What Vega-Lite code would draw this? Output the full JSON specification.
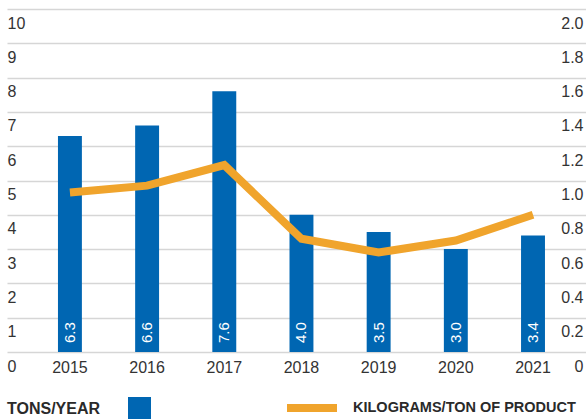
{
  "$schema": "https://vega.github.io/schema/vega-lite/v6.json",
  "width": 579,
  "height": 343,
  "autosize": {"type": "none"},
  "padding": {"left": 7, "top": 9, "right": 0, "bottom": 67},
  "background": "white",
  "config": {
    "view": {"stroke": null},
    "font": "Liberation Sans",
    "axis": {"labelFont": "Liberation Sans", "labelFontSize": 16, "labelColor": "#333333"}
  },
  "data": {
    "values": [
      {"year": "2015", "tons": 6.3, "kg": 0.93},
      {"year": "2016", "tons": 6.6, "kg": 0.97},
      {"year": "2017", "tons": 7.6, "kg": 1.09},
      {"year": "2018", "tons": 4.0, "kg": 0.66},
      {"year": "2019", "tons": 3.5, "kg": 0.58},
      {"year": "2020", "tons": 3.0, "kg": 0.65},
      {"year": "2021", "tons": 3.4, "kg": 0.80}
    ]
  },
  "encoding": {
    "x": {
      "field": "year",
      "type": "ordinal",
      "scale": {"paddingInner": 0.69, "paddingOuter": 0.596, "align": 0.554},
      "axis": {"title": null, "domain": false, "ticks": false, "tickSize": 0, "labelPadding": 7, "labelAngle": 0}
    }
  },
  "layer": [
    {
      "layer": [
        {
          "mark": {"type": "bar"},
          "encoding": {
            "y": {
              "field": "tons",
              "type": "quantitative",
              "scale": {"domain": [0, 10]},
              "axis": {
                "title": null,
                "values": [0, 1, 2, 3, 4, 5, 6, 7, 8, 9, 10],
                "labelOverlap": false,
                "domain": false,
                "ticks": false,
                "tickSize": 0,
                "labelAlign": "left",
                "labelBaseline": "top",
                "labelPadding": 0,
                "labelOffset": 6,
                "labelFlush": false,
                "grid": true,
                "gridColor": "#d6d6d6",
                "gridWidth": 1.5
              }
            },
            "fill": {
              "datum": "TONS/YEAR",
              "type": "nominal",
              "scale": {"range": ["#0066b2"]},
              "legend": {
                "orient": "none",
                "legendX": 0,
                "legendY": 388,
                "title": "TONS/YEAR",
                "titleOrient": "left",
                "titleAnchor": "middle",
                "titleBaseline": "middle",
                "titleFont": "Liberation Sans",
                "titleFontSize": 16,
                "titleFontWeight": "bold",
                "titleColor": "#2a2a2a",
                "titlePadding": 27,
                "labelExpr": "''",
                "symbolType": "square",
                "symbolSize": 529,
                "symbolStrokeWidth": 0,
                "symbolOpacity": 1
              }
            }
          }
        },
        {
          "mark": {"type": "text", "angle": 270, "align": "left", "baseline": "middle", "dx": 9, "color": "white", "fontSize": 15, "font": "Liberation Sans"},
          "encoding": {
            "y": {
              "datum": 0,
              "type": "quantitative",
              "axis": {
                "title": null,
                "values": [0, 1, 2, 3, 4, 5, 6, 7, 8, 9, 10],
                "labelOverlap": false,
                "domain": false,
                "ticks": false,
                "tickSize": 0,
                "labelAlign": "left",
                "labelBaseline": "top",
                "labelPadding": 0,
                "labelOffset": 6,
                "labelFlush": false,
                "grid": true,
                "gridColor": "#d6d6d6",
                "gridWidth": 1.5
              }
            },
            "text": {"field": "tons", "type": "quantitative", "format": ".1f"}
          }
        }
      ]
    },
    {
      "mark": {"type": "line", "strokeWidth": 8, "strokeJoin": "miter", "strokeCap": "butt"},
      "encoding": {
        "y": {
          "field": "kg",
          "type": "quantitative",
          "scale": {"domain": [0, 2]},
          "axis": {
            "orient": "right",
            "title": null,
            "values": [0, 0.2, 0.4, 0.6, 0.8, 1.0, 1.2, 1.4, 1.6, 1.8, 2.0],
            "labelOverlap": false,
            "labelExpr": "datum.value == 0 ? '0' : format(datum.value, '.1f')",
            "domain": false,
            "ticks": false,
            "tickSize": 0,
            "grid": false,
            "labelAlign": "right",
            "labelBaseline": "top",
            "labelPadding": -3,
            "labelOffset": 6,
            "labelFlush": false
          }
        },
        "stroke": {
          "datum": "KILOGRAMS/TON OF PRODUCT",
          "type": "nominal",
          "scale": {"range": ["#f0a42c"]},
          "legend": {
            "orient": "none",
            "legendX": 276,
            "legendY": 370,
            "title": null,
            "labelFont": "Liberation Sans",
            "labelFontSize": 14.5,
            "labelFontWeight": "bold",
            "labelColor": "#2a2a2a",
            "labelOffset": 12,
            "labelLimit": 0,
            "symbolType": "stroke",
            "symbolSize": 2500,
            "symbolStrokeWidth": 8
          }
        }
      }
    }
  ],
  "resolve": {"scale": {"y": "independent"}}
}
